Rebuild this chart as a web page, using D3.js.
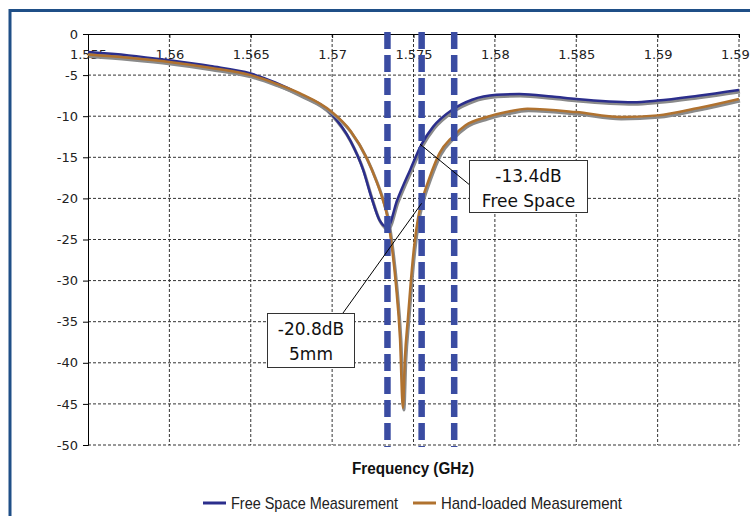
<!DOCTYPE html>
<html>
<head>
<meta charset="utf-8">
<script src="https://d3js.org/d3.v7.min.js"></script>
<style>
body { margin: 0; background: #fff; }
svg { display: block; }
.tick text { font-family: "DejaVu Sans", Verdana, sans-serif; font-size: 13px; fill: #222; }
.narrow { font-family: "Liberation Sans Narrow", "Arial Narrow", "Liberation Sans", Arial, sans-serif; }
</style>
</head>
<body>
<svg id="chart"></svg>
<script>
// frequencies in GHz, return loss in dB
var freqFree = [1.555, 1.5575, 1.56, 1.5625, 1.565, 1.5665, 1.568, 1.5699, 1.5711, 1.5719, 1.5724, 1.5729, 1.5734,
  1.574, 1.5748, 1.5755, 1.5762, 1.5774, 1.5786, 1.5801, 1.5815, 1.5835, 1.585, 1.5885, 1.59, 1.5925, 1.595];
var dbFree = [-2.2, -2.6, -3.2, -3.9, -4.8, -5.9, -7.3, -9.6, -12.9, -16.5, -19.8, -22.6, -23.5,
  -20.2, -16.5, -13.4, -11.3, -9.2, -8.0, -7.4, -7.3, -7.6, -7.9, -8.3, -8.1, -7.5, -6.8];

var freqHand = [1.555, 1.5575, 1.56, 1.5625, 1.565, 1.5665, 1.568, 1.57, 1.5711, 1.5721, 1.5727, 1.57312,
  1.57343, 1.57367, 1.57392, 1.57417, 1.57435, 1.57447, 1.57466, 1.57484, 1.57503, 1.57527, 1.57552,
  1.576, 1.5766, 1.5774, 1.5782, 1.5795, 1.5807, 1.582, 1.585, 1.5877, 1.59, 1.5925, 1.595];
var dbHand = [-2.5, -2.9, -3.4, -4.1, -5.0, -6.0, -7.2, -9.5, -11.7, -15.0, -17.8, -20.2,
  -22.6, -25.9, -30.5, -37.0, -45.5, -39.5, -34.5, -30.0, -26.0, -22.5, -20.3,
  -17.4, -14.5, -12.5, -11.1, -10.1, -9.5, -9.1, -9.5, -10.1, -9.9, -9.0, -7.9];

var bandMarks = [1.5734, 1.5755, 1.5775];   // dashed band lines
var xTicks = [1.555, 1.56, 1.565, 1.57, 1.575, 1.58, 1.585, 1.59, 1.595];
var yTicks = [0, -5, -10, -15, -20, -25, -30, -35, -40, -45, -50];

var seriesNames = ["Free Space Measurement", "Hand-loaded Measurement"];
var seriesColors = ["#2b2e8c", "#b0722f"];

var notes = [
  {f: 1.5754, db: -13.4, lines: ["-13.4dB", "Free Space"]},
  {f: 1.5755, db: -20.6, lines: ["-20.8dB", "5mm"]}
];

var W = 750, H = 516;
var svg = d3.select("#chart").attr("width", W).attr("height", H);

var x = d3.scaleLinear().domain([1.555, 1.595]).range([88, 739]);
var y = d3.scaleLinear().domain([-50, 0]).range([445, 34]);

// outer frame
svg.append("rect")
  .attr("x", 10).attr("y", 10.5).attr("width", 800).attr("height", 600)
  .attr("fill", "none").attr("stroke", "#1f4f87").attr("stroke-width", 3);

// grid
var grid = svg.append("g");
grid.selectAll("line.h").data(yTicks.filter(function(d) { return d != 0; })).enter().append("line")
  .attr("x1", x(1.555)).attr("x2", x(1.595))
  .attr("y1", function(d) { return y(d); }).attr("y2", function(d) { return y(d); })
  .attr("stroke", "#333").attr("stroke-width", 1).attr("stroke-dasharray", "3,2");
grid.selectAll("line.v").data(xTicks.slice(1)).enter().append("line")
  .attr("x1", function(d) { return x(d); }).attr("x2", function(d) { return x(d); })
  .attr("y1", y(0)).attr("y2", y(-50))
  .attr("stroke", "#333").attr("stroke-width", 1).attr("stroke-dasharray", "3,2");

// axes
svg.append("g")
  .attr("transform", "translate(" + x(1.555) + ",0)")
  .call(d3.axisLeft(y).tickValues(yTicks).tickSize(5).tickPadding(5).tickFormat(function(d) { return String(d); }))
  .call(function(g) { g.select(".domain").attr("stroke", "#000"); });

svg.append("g")
  .attr("transform", "translate(0," + y(0) + ")")
  .call(d3.axisBottom(x).tickValues(xTicks).tickSize(4).tickPadding(12)
    .tickFormat(function(d) { return String(+d.toFixed(3)); }))
  .call(function(g) { g.select(".domain").attr("stroke", "#000"); });

// curves
var line = d3.line()
  .x(function(d) { return x(d[0]); })
  .y(function(d) { return y(d[1]); })
  .curve(d3.curveMonotoneX);

var series = [d3.zip(freqFree, dbFree), d3.zip(freqHand, dbHand)];

var curves = svg.append("g");
series.forEach(function(s, i) {
  curves.append("path").datum(s)
    .attr("d", line).attr("fill", "none")
    .attr("stroke", "#8a8a8a").attr("stroke-width", 3)
    .attr("transform", "translate(1,2)");
  curves.append("path").datum(s)
    .attr("d", line).attr("fill", "none")
    .attr("stroke", seriesColors[i]).attr("stroke-width", 2.5);
});

// band markers
svg.selectAll("line.band").data(bandMarks).enter().append("line")
  .attr("x1", function(d) { return x(d); }).attr("x2", function(d) { return x(d); })
  .attr("y1", 32).attr("y2", y(-50) + 2)
  .attr("stroke", "#3a4ca2").attr("stroke-width", 6.5)
  .attr("stroke-dasharray", "17,6");

// annotations
var boxes = [
  {x: 469, y: 160, w: 118, h: 52, lx: 471, ly: 186},
  {x: 267, y: 313, w: 87, h: 54, lx: 343, ly: 313}
];
notes.forEach(function(n, i) {
  var b = boxes[i];
  var px = x(n.f), py = y(n.db);
  svg.append("line")
    .attr("x1", px).attr("y1", py).attr("x2", b.lx).attr("y2", b.ly)
    .attr("stroke", "#000").attr("stroke-width", 1);
  svg.append("rect")
    .attr("x", b.x + 0.5).attr("y", b.y + 0.5).attr("width", b.w).attr("height", b.h)
    .attr("fill", "#fff").attr("stroke", "#333").attr("stroke-width", 1);
  svg.append("text")
    .attr("x", b.x + b.w / 2 + 0.5).attr("y", b.y + 22)
    .attr("text-anchor", "middle")
    .style("font-family", "'DejaVu Sans', Verdana, sans-serif").style("font-size", "17px").attr("fill", "#111")
    .selectAll("tspan").data(n.lines).enter().append("tspan")
    .attr("x", b.x + b.w / 2 + 0.5)
    .attr("dy", function(d, j) { return j == 0 ? 0 : 25; })
    .text(function(d) { return d; });
});

// axis title
svg.append("text")
  .attr("class", "narrow")
  .attr("x", 352).attr("y", 474)
  .attr("textLength", 122).attr("lengthAdjust", "spacingAndGlyphs")
  .style("font-size", "16px").style("font-weight", "bold").attr("fill", "#111")
  .text("Frequency (GHz)");

// legend
var legendX = [203, 413];
var legendW = [167, 181];
var leg = svg.append("g");
seriesNames.forEach(function(name, i) {
  var lx = legendX[i];
  leg.append("line")
    .attr("x1", lx).attr("x2", lx + 23).attr("y1", 503).attr("y2", 503)
    .attr("stroke", seriesColors[i]).attr("stroke-width", 3);
  leg.append("text")
    .attr("class", "narrow")
    .attr("x", lx + 28).attr("y", 509)
    .attr("textLength", legendW[i]).attr("lengthAdjust", "spacingAndGlyphs")
    .style("font-size", "17px").attr("fill", "#222")
    .text(name);
});
</script>
</body>
</html>
